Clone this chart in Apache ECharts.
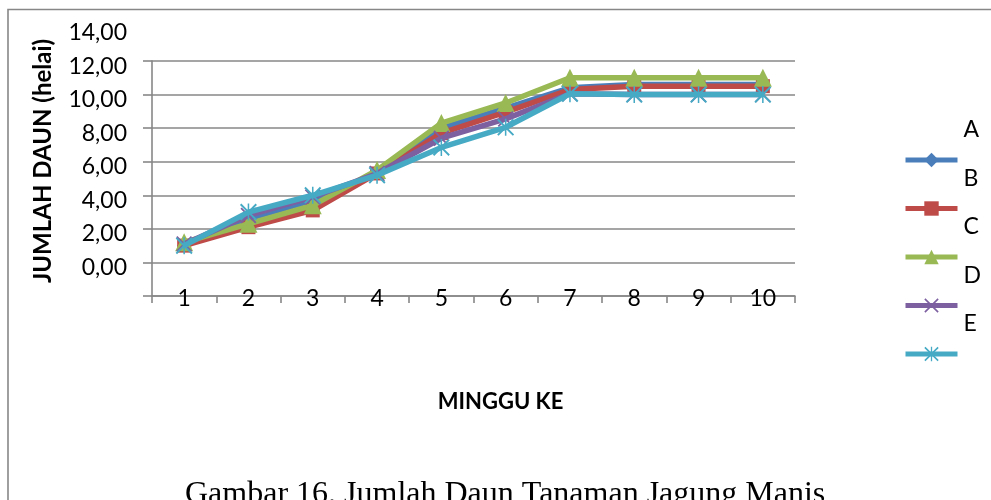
<!DOCTYPE html>
<html>
<head>
<meta charset="utf-8">
<script src="https://cdn.jsdelivr.net/npm/echarts@6/dist/echarts.min.js"></script>
<style>html,body{margin:0;padding:0;background:#fff;}#c{width:991px;height:500px;}</style>
</head>
<body>
<div id="c"></div>
<script>
const weeks = ['1','2','3','4','5','6','7','8','9','10'];
const seriesNames = ['A','B','C','D','E'];
const valuesA = [1.0, 2.6, 3.7, 5.3, 8.0, 9.2, 10.4, 10.6, 10.6, 10.6];
const valuesB = [1.0, 2.1, 3.1, 5.3, 7.7, 8.95, 10.3, 10.5, 10.5, 10.5];
const valuesC = [1.2, 2.3, 3.4, 5.5, 8.3, 9.5, 11.0, 11.0, 11.0, 11.0];
const valuesD = [1.1, 2.8, 3.9, 5.3, 7.4, 8.55, 10.05, 10.0, 10.0, 10.0];
const valuesE = [1.0, 3.0, 4.0, 5.2, 6.85, 8.05, 10.05, 10.0, 10.0, 10.0];
const yTickMin = -2, yTickMax = 14, yTickStep = 2;
const yTitle = 'JUMLAH DAUN (helai)';
const xTitle = 'MINGGU KE';
const caption = 'Gambar 16. Jumlah Daun Tanaman Jagung Manis';

const colors = ['#4A7EBB', '#BE4B48', '#98B954', '#7D60A0', '#46AAC5'];
const xPath = 'path://M0,1.6 L1.6,0 L10,8.4 L18.4,0 L20,1.6 L11.6,10 L20,18.4 L18.4,20 L10,11.6 L1.6,20 L0,18.4 L8.4,10 Z';
const starPath = 'path://M0,1.6 L1.6,0 L10,8.4 L18.4,0 L20,1.6 L11.6,10 L20,18.4 L18.4,20 L10,11.6 L1.6,20 L0,18.4 L8.4,10 Z M9.1,0 L10.9,0 L10.9,20 L9.1,20 Z';
const symbols = ['diamond', 'rect', 'triangle', xPath, starPath];
const symbolSizes = [14, 14, 18, 16, 17];
const allValues = [valuesA, valuesB, valuesC, valuesD, valuesE];

const FONT = 'Lato';
const GRAY = '#878787';

// one legend block per series so that each label can sit above its own key
const legends = seriesNames.map((n, i) => ({
  orient: 'vertical', left: 903, top: 115 + 48.5 * i, padding: 0,
  itemWidth: 52, itemHeight: 18,
  data: [n],
  lineStyle: { width: 5 },
  formatter: name => name + '\n\n',
  textStyle: { fontFamily: FONT, fontSize: 23, lineHeight: 30, color: '#000', padding: [0, 0, 0, 1] }
}));

const chart = echarts.init(document.getElementById('c'));
chart.setOption({
  animation: false,
  textStyle: { fontFamily: FONT },
  graphic: [{
    type: 'rect', silent: true, z: -1,
    shape: { x: 8, y: 9.5, width: 1100, height: 700 },
    style: { fill: 'none', stroke: GRAY, lineWidth: 1.6 }
  }],
  title: {
    text: caption, left: 180, top: 474,
    textStyle: { fontFamily: 'Liberation Serif', fontSize: 32, fontWeight: 'normal', color: '#000' }
  },
  legend: legends,
  grid: [
    { left: 152, right: 196, top: 61, bottom: 204 },
    { left: 152, right: 196, top: 33, bottom: 199 }
  ],
  xAxis: [
    {
      type: 'category', gridIndex: 0, data: weeks, boundaryGap: true,
      name: xTitle, nameLocation: 'middle', nameGap: 95,
      nameTextStyle: { fontFamily: FONT, fontSize: 22, fontWeight: 'bold', color: '#000', padding: [0, 0, 0, 54] },
      axisLine: { onZero: false, lineStyle: { color: GRAY, width: 1.6 } },
      axisTick: { show: true, length: 7, alignWithLabel: false, lineStyle: { color: GRAY, width: 1.6 } },
      axisLabel: { fontSize: 23, color: '#000', margin: 3, verticalAlign: 'middle', fontFamily: FONT },
      splitLine: { show: false }
    },
    { type: 'category', gridIndex: 1, data: weeks, show: false }
  ],
  yAxis: [
    {
      type: 'value', gridIndex: 0, min: yTickMin, max: 12, interval: yTickStep,
      axisLine: { show: true, lineStyle: { color: GRAY, width: 1.6 } },
      axisTick: { show: true, length: 9, lineStyle: { color: GRAY, width: 1.6 } },
      axisLabel: { show: false },
      splitLine: { show: true, lineStyle: { color: GRAY, width: 1.6 } }
    },
    {
      type: 'value', gridIndex: 1, min: yTickMin, max: yTickMax, interval: yTickStep,
      name: yTitle, nameLocation: 'middle', nameGap: 97,
      nameTextStyle: { fontFamily: FONT, fontSize: 24, fontWeight: 'bold', color: '#000', padding: [0, 0, 0, 12] },
      axisLine: { show: false }, axisTick: { show: false }, splitLine: { show: false },
      axisLabel: {
        fontSize: 23, color: '#000', margin: 25, fontFamily: FONT,
        formatter: v => v === yTickMin ? '' : v.toFixed(2).replace('.', ',')
      }
    }
  ],
  series: seriesNames.map((n, i) => ({
    name: n, type: 'line', xAxisIndex: 0, yAxisIndex: 0,
    data: allValues[i],
    symbol: symbols[i], symbolSize: symbolSizes[i], showAllSymbol: true,
    color: colors[i],
    lineStyle: { width: 5.5, color: colors[i] },
    itemStyle: { color: colors[i] },
    z: 2 + i
  }))
});
</script>
</body>
</html>
